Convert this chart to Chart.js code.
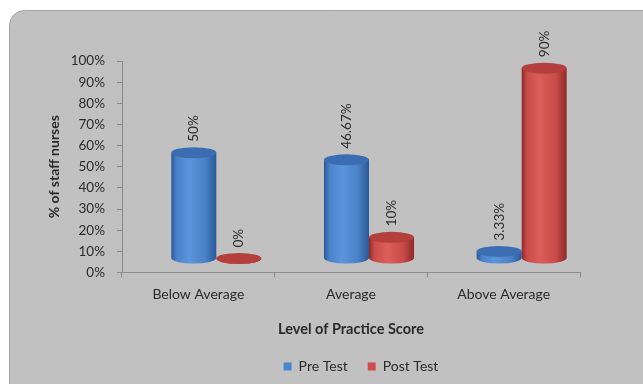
<!DOCTYPE html>
<html>
<head>
<meta charset="utf-8">
<script src="https://cdn.jsdelivr.net/npm/chart.js@4/dist/chart.umd.min.js"></script>
<style>
html,body{margin:0;padding:0;background:#fff;}
#wrap{position:relative;width:643px;height:384px;}
</style>
</head>
<body>
<div id="wrap"><canvas id="c" width="643" height="384"></canvas></div>
<script>
const categories = ['Below Average', 'Average', 'Above Average'];
const preTest = [50, 46.67, 3.33];
const postTest = [0, 10, 90];
const seriesNames = ['Pre Test', 'Post Test'];
const yTicks = [0, 10, 20, 30, 40, 50, 60, 70, 80, 90, 100];

const FONT = 'Lato, "Open Sans", sans-serif';
const TXT = '#2a2a2a';
const palettes = [
  {edge:'#2a5896', light:'#5b95dc', mid:'#4a82c8', top:'#3a6db2', legend:'#4a86d0'},
  {edge:'#8f2a29', light:'#dc5e5b', mid:'#c94c49', top:'#b43f3d', legend:'#d04c4c'}
];
const DX = 18, DY = -14, RY = 5.5;
const LEGEND_SHIFT = 71;

const panelPlugin = {
  id: 'panel',
  beforeDraw(chart) {
    const ctx = chart.ctx;
    ctx.save();
    ctx.fillStyle = '#ffffff';
    ctx.fillRect(0, 0, chart.width, chart.height);
    ctx.beginPath();
    ctx.roundRect(9.5, 10.5, 700, 420, 15);
    ctx.fillStyle = '#c1c1c1';
    ctx.fill();
    ctx.strokeStyle = '#a4a4a4';
    ctx.lineWidth = 1;
    ctx.stroke();
    ctx.restore();
  },
  afterLayout(chart) {
    if (chart.legend) {
      chart.legend.left += LEGEND_SHIFT;
      chart.legend.right += LEGEND_SHIFT;
    }
  }
};

function cylinder(ctx, cx, w, topY, baseY, p) {
  const rx = w / 2, l = cx - rx, r = cx + rx;
  const g = ctx.createLinearGradient(l, 0, r, 0);
  g.addColorStop(0, p.edge);
  g.addColorStop(0.12, p.mid);
  g.addColorStop(0.4, p.light);
  g.addColorStop(0.75, p.mid);
  g.addColorStop(1, p.edge);
  ctx.beginPath();
  ctx.moveTo(l, topY);
  ctx.lineTo(l, baseY);
  ctx.ellipse(cx, baseY, rx, RY, 0, Math.PI, 0, true);
  ctx.lineTo(r, topY);
  ctx.closePath();
  ctx.fillStyle = g;
  ctx.fill();
  ctx.beginPath();
  ctx.ellipse(cx, topY, rx, RY, 0, 0, Math.PI * 2);
  ctx.fillStyle = p.top;
  ctx.fill();
}

const cylPlugin = {
  id: 'cyl',
  beforeDatasetsDraw(chart) {
    const ctx = chart.ctx;
    ctx.save();
    chart.data.datasets.forEach((ds, di) => {
      const meta = chart.getDatasetMeta(di);
      meta.data.forEach((el, i) => {
        const {x, y, base, width} = el.getProps(['x', 'y', 'base', 'width'], true);
        const cx = x + DX, topY = y + DY, baseY = base + DY;
        cylinder(ctx, cx, width, topY, baseY, palettes[di]);
        ctx.save();
        ctx.translate(cx, topY - 11);
        ctx.rotate(-Math.PI / 2);
        ctx.font = '13.5px ' + FONT;
        ctx.fillStyle = TXT;
        ctx.textAlign = 'left';
        ctx.textBaseline = 'middle';
        ctx.fillText(ds.data[i] + '%', 0, 0);
        ctx.restore();
      });
    });
    ctx.restore();
    return false;
  }
};

new Chart(document.getElementById('c'), {
  type: 'bar',
  data: {
    labels: categories,
    datasets: [
      {label: seriesNames[0], data: preTest, backgroundColor: palettes[0].legend, borderWidth: 0},
      {label: seriesNames[1], data: postTest, backgroundColor: palettes[1].legend, borderWidth: 0}
    ]
  },
  options: {
    responsive: false,
    animation: false,
    devicePixelRatio: 1,
    categoryPercentage: 0.59,
    barPercentage: 1,
    layout: {padding: {top: 61, right: 63, bottom: 0.5, left: 0}},
    plugins: {
      tooltip: {enabled: false},
      legend: {
        position: 'bottom',
        labels: {
          boxWidth: 8, boxHeight: 8, padding: 20,
          color: TXT, font: {family: FONT, size: 14}
        }
      }
    },
    scales: {
      x: {
        afterFit(s) { s.height = 67; },
        grid: {display: true, drawOnChartArea: false, offset: true, tickLength: 5, color: '#8a8a8a'},
        border: {color: '#8a8a8a'},
        ticks: {color: TXT, font: {family: FONT, size: 14}, padding: 9, maxRotation: 0},
        title: {display: true, text: 'Level of Practice Score', color: TXT,
                font: {family: FONT, size: 14.5, weight: 'bold'}, padding: {top: 0, bottom: 1}}
      },
      y: {
        min: 0, max: 100,
        afterFit(s) { s.width = 122; },
        afterBuildTicks(s) { s.ticks = yTicks.map(v => ({value: v})); },
        grid: {display: true, drawOnChartArea: false, tickLength: 5, color: '#8a8a8a'},
        border: {color: '#8a8a8a'},
        ticks: {color: TXT, font: {family: FONT, size: 13.5}, padding: 12, callback: v => v + '%'},
        title: {display: true, text: '% of staff nurses', color: TXT,
                font: {family: FONT, size: 14, weight: 'bold'}, padding: {top: 46, bottom: 0}}
      }
    }
  },
  plugins: [panelPlugin, cylPlugin]
});
</script>
</body>
</html>
